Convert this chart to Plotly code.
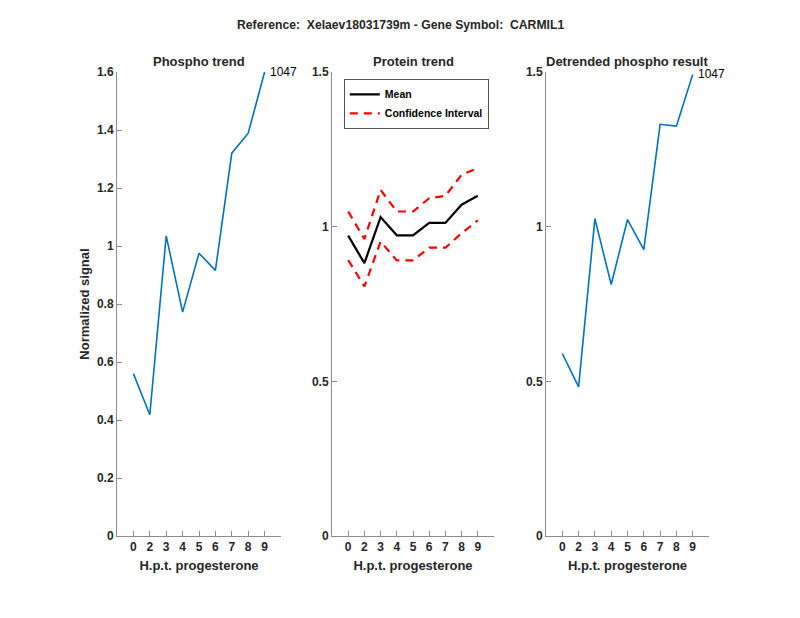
import plotly.graph_objects as go

tick_labels = ["0", "2", "3", "4", "5", "6", "7", "8", "9"]
positions = [1, 2, 3, 4, 5, 6, 7, 8, 9]

phospho = [0.560, 0.418, 1.035, 0.772, 0.975, 0.916, 1.320, 1.389, 1.600]
protein_mean = [0.971, 0.882, 1.031, 0.972, 0.972, 1.012, 1.012, 1.071, 1.100]
protein_upper = [1.049, 0.960, 1.119, 1.049, 1.049, 1.092, 1.100, 1.168, 1.189]
protein_lower = [0.892, 0.807, 0.952, 0.891, 0.891, 0.932, 0.932, 0.979, 1.020]
detrended = [0.590, 0.482, 1.026, 0.813, 1.023, 0.926, 1.331, 1.325, 1.492]
site_label = "1047"

# page body adds an 8px offset; the figure is sized/placed to compensate
OFF = 8
W, H = 800 - OFF, 618 - OFF
FONT = "Liberation Sans, Arial, Helvetica, sans-serif"
TXT = "#262626"
AX = "#8c8c8c"
BLUE = "#0072BD"

def px_x(a, b):
    return [(a - OFF) / W, (b - OFF) / W]

def px_y(top, bottom):
    return [1 - (bottom - OFF) / H, 1 - (top - OFF) / H]

def fx(a):
    return (a - OFF) / W

def fy(a):
    return 1 - (a - OFF) / H

fig = go.Figure()

fig.add_trace(go.Scatter(x=positions, y=phospho, mode="lines",
                         line=dict(color=BLUE, width=1.6), showlegend=False,
                         xaxis="x", yaxis="y", cliponaxis=False))
fig.add_trace(go.Scatter(x=positions, y=protein_mean, mode="lines", name="Mean",
                         line=dict(color="black", width=2.2), xaxis="x2", yaxis="y2"))
fig.add_trace(go.Scatter(x=positions, y=protein_upper, mode="lines", name="Confidence Interval",
                         line=dict(color="red", width=2.2, dash="8px,6px"), xaxis="x2", yaxis="y2"))
fig.add_trace(go.Scatter(x=positions, y=protein_lower, mode="lines", name="Confidence Interval",
                         line=dict(color="red", width=2.2, dash="8px,6px"), showlegend=False,
                         xaxis="x2", yaxis="y2"))
fig.add_trace(go.Scatter(x=positions, y=detrended, mode="lines",
                         line=dict(color=BLUE, width=1.6), showlegend=False,
                         xaxis="x3", yaxis="y3"))

tickfont = dict(family=FONT, size=12, color=TXT, weight="bold")
titlefont = dict(family=FONT, size=13, color=TXT, weight="bold")

def xax(domain, anchor):
    return dict(domain=domain, anchor=anchor, range=[0, 10], tickmode="array",
                tickvals=positions, ticktext=tick_labels, ticks="inside", ticklen=5,
                tickcolor=AX, showline=True, linecolor=AX, linewidth=1,
                showgrid=False, zeroline=False, tickfont=tickfont, automargin=False,
                title=dict(text="H.p.t. progesterone", font=titlefont, standoff=7))

def yax(domain, anchor, rng, vals, text, title=None):
    d = dict(domain=domain, anchor=anchor, range=rng, tickmode="array",
             tickvals=vals, ticktext=text, ticks="inside", ticklen=5,
             tickcolor=AX, showline=True, linecolor=AX, linewidth=1,
             showgrid=False, zeroline=False, tickfont=tickfont, automargin=False)
    if title:
        d["title"] = dict(text=title, font=titlefont, standoff=4)
    return d

ydom = px_y(72, 536)
fig.update_layout(
    width=W, height=H,
    margin=dict(l=0, r=0, t=0, b=0, autoexpand=False),
    paper_bgcolor="white", plot_bgcolor="white",
    xaxis=xax(px_x(117, 281), "y"),
    yaxis=yax(ydom, "x", [0, 1.6], [0, 0.2, 0.4, 0.6, 0.8, 1.0, 1.2, 1.4, 1.6],
              ["0", "0.2", "0.4", "0.6", "0.8", "1", "1.2", "1.4", "1.6"], "Normalized signal"),
    xaxis2=xax(px_x(332, 494), "y2"),
    yaxis2=yax(ydom, "x2", [0, 1.5], [0, 0.5, 1.0, 1.5], ["0", "0.5", "1", "1.5"]),
    xaxis3=xax(px_x(546, 709), "y3"),
    yaxis3=yax(ydom, "x3", [0, 1.5], [0, 0.5, 1.0, 1.5], ["0", "0.5", "1", "1.5"]),
    legend=dict(x=fx(344), y=fy(79), xanchor="left", yanchor="top",
                bgcolor="white", bordercolor="#262626", borderwidth=0.8,
                font=dict(family=FONT, size=10.5, color="black", weight="bold"),
                tracegroupgap=0, itemwidth=30),
    showlegend=True,
)

annotations = [
    dict(text="Reference:  Xelaev18031739m - Gene Symbol:  CARMIL1", x=fx(400), y=fy(25),
         xref="paper", yref="paper", showarrow=False, xanchor="center", yanchor="middle",
         font=dict(family=FONT, size=12.2, color=TXT, weight="bold")),
    dict(text="Phospho trend", x=fx(199), y=fy(61), xref="paper", yref="paper",
         showarrow=False, xanchor="center", yanchor="middle", font=titlefont),
    dict(text="Protein trend", x=fx(413), y=fy(61), xref="paper", yref="paper",
         showarrow=False, xanchor="center", yanchor="middle", font=titlefont),
    dict(text="Detrended phospho result", x=fx(627), y=fy(61), xref="paper", yref="paper",
         showarrow=False, xanchor="center", yanchor="middle", font=titlefont),
    dict(text=site_label, x=positions[-1], y=phospho[-1], xref="x", yref="y",
         showarrow=False, xanchor="left", yanchor="middle", xshift=3,
         font=dict(family=FONT, size=12, color="black")),
    dict(text=site_label, x=positions[-1], y=detrended[-1], xref="x3", yref="y3",
         showarrow=False, xanchor="left", yanchor="middle", xshift=3,
         font=dict(family=FONT, size=12, color="black")),
]
fig.update_layout(annotations=annotations)

fig.write_html("out.html")
